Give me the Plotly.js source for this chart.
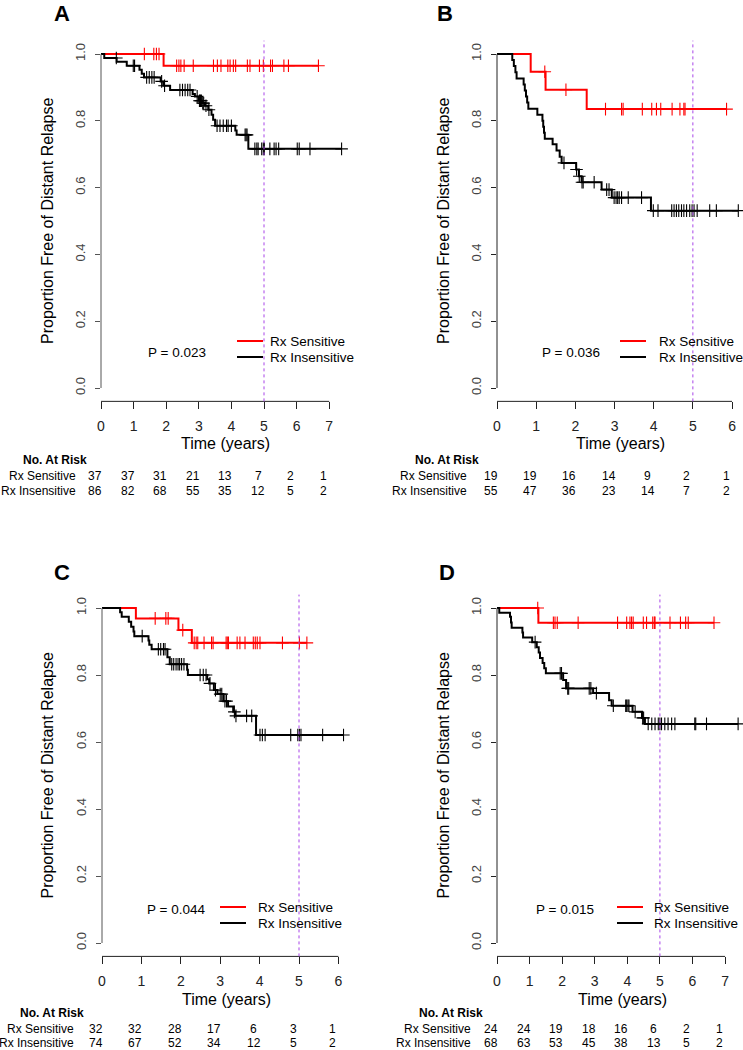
<!DOCTYPE html>
<html><head><meta charset="utf-8">
<script src="https://cdn.plot.ly/plotly-3.0.1.min.js"></script>
<style>html,body{margin:0;padding:0;background:#fff}</style>
</head><body><div id="chart" style="width:743px;height:1050px"></div>
<script>
// ---------------- DATA ----------------
const seriesNames = ['Rx Sensitive', 'Rx Insensitive'];
const landmarkYear = 5;
const yTicks = [0, 0.2, 0.4, 0.6, 0.8, 1.0];
const yTickText = ['0.0', '0.2', '0.4', '0.6', '0.8', '1.0'];
const xTicksA = [0, 1, 2, 3, 4, 5, 6, 7];
const xTicksB = [0, 1, 2, 3, 4, 5, 6];
const xTicksC = [0, 1, 2, 3, 4, 5, 6];
const xTicksD = [0, 1, 2, 3, 4, 5, 6, 7];
const pValues = ['P = 0.023', 'P = 0.036', 'P = 0.044', 'P = 0.015'];

// Panel A
const aSensEventT = [1.92];
const aSensEventS = [0.965];
const aSensCensor = [1.33, 1.62, 1.70, 1.78, 2.32, 2.39, 2.45, 2.55, 2.83, 3.45, 3.57, 3.68, 3.89, 3.96, 4.06, 4.13, 4.49, 4.57, 4.86, 4.98, 5.20, 5.26, 5.61, 5.75, 6.67];
const aInsEventT = [0.10, 0.48, 0.79, 1.18, 1.25, 1.32, 1.83, 1.91, 2.12, 2.81, 2.88, 3.00, 3.10, 3.19, 3.29, 3.39, 3.44, 3.50, 4.12, 4.16, 4.52];
const aInsEventS = [0.988, 0.977, 0.965, 0.953, 0.941, 0.930, 0.918, 0.905, 0.892, 0.880, 0.873, 0.860, 0.853, 0.845, 0.833, 0.818, 0.803, 0.785, 0.771, 0.758, 0.716];
const aInsCensor = [0.47, 0.99, 1.03, 1.40, 1.48, 1.56, 1.63, 1.86, 1.95, 2.42, 2.50, 2.58, 2.66, 2.73, 2.95, 3.02, 3.05, 3.08, 3.12, 3.15, 3.22, 3.31, 3.56, 3.65, 3.75, 3.85, 3.90, 4.00, 4.42, 4.45, 4.48, 4.72, 4.78, 4.82, 4.93, 4.98, 5.01, 5.18, 5.31, 5.37, 5.45, 6.02, 6.08, 6.41, 7.38];
const aRiskSens = [37, 37, 31, 21, 13, 7, 2, 1];
const aRiskIns = [86, 82, 68, 55, 35, 12, 5, 2];

// Panel B
const bSensEventT = [0.86, 1.24, 2.29];
const bSensEventS = [0.947, 0.893, 0.835];
const bSensCensor = [1.22, 1.76, 2.77, 3.18, 3.22, 3.71, 3.95, 4.07, 4.18, 4.47, 4.67, 4.77, 4.80, 5.86];
const bInsEventT = [0.39, 0.43, 0.47, 0.50, 0.68, 0.71, 0.74, 0.77, 0.80, 1.03, 1.16, 1.18, 1.20, 1.22, 1.42, 1.52, 1.60, 1.65, 2.02, 2.09, 2.16, 2.67, 2.93, 3.93];
const bInsEventS = [0.982, 0.964, 0.945, 0.927, 0.909, 0.891, 0.873, 0.855, 0.836, 0.818, 0.800, 0.782, 0.764, 0.746, 0.730, 0.711, 0.692, 0.674, 0.654, 0.634, 0.616, 0.594, 0.570, 0.531];
const bInsCensor = [1.71, 2.03, 2.10, 2.17, 2.20, 2.48, 2.80, 2.86, 2.99, 3.04, 3.08, 3.12, 3.18, 3.35, 3.69, 3.99, 4.11, 4.46, 4.52, 4.58, 4.64, 4.71, 4.77, 4.84, 4.92, 4.98, 5.03, 5.11, 5.43, 5.60, 6.16];
const bRiskSens = [19, 19, 16, 14, 9, 2, 1];
const bRiskIns = [55, 47, 36, 23, 14, 7, 2];

// Panel C
const cSensEventT = [0.86, 1.94, 2.28];
const cSensEventS = [0.969, 0.934, 0.896];
const cSensCensor = [1.35, 1.62, 1.68, 2.05, 2.34, 2.39, 2.43, 2.59, 2.78, 2.82, 3.15, 3.18, 3.21, 3.43, 3.50, 3.63, 3.84, 3.89, 3.94, 4.01, 4.58, 5.01, 5.20];
const cInsEventT = [0.46, 0.50, 0.68, 0.74, 0.80, 0.82, 1.18, 1.20, 1.26, 1.66, 1.72, 2.16, 2.18, 2.67, 2.72, 2.84, 2.93, 3.08, 3.20, 3.33, 3.38, 3.91];
const cInsEventS = [0.987, 0.974, 0.959, 0.944, 0.930, 0.916, 0.903, 0.890, 0.877, 0.853, 0.832, 0.816, 0.800, 0.787, 0.775, 0.755, 0.743, 0.722, 0.706, 0.690, 0.678, 0.621];
const cInsCensor = [1.02, 1.43, 1.49, 1.56, 1.60, 1.77, 1.82, 1.88, 1.93, 1.97, 2.02, 2.08, 2.49, 2.57, 2.64, 2.74, 2.88, 3.00, 3.04, 3.12, 3.16, 3.36, 3.40, 3.67, 3.80, 4.01, 4.07, 4.14, 4.79, 4.97, 5.01, 5.05, 5.60, 6.13];
const cRiskSens = [32, 32, 28, 17, 6, 3, 1];
const cRiskIns = [74, 67, 52, 34, 12, 5, 2];

// Panel D
const dSensEventT = [1.27];
const dSensEventS = [0.956];
const dSensCensor = [1.25, 1.73, 1.78, 1.85, 2.49, 3.70, 3.98, 4.08, 4.13, 4.18, 4.49, 4.59, 4.78, 4.83, 4.85, 5.31, 5.63, 5.79, 5.87, 6.66];
const dInsEventT = [0.07, 0.40, 0.43, 0.45, 0.78, 0.80, 1.08, 1.22, 1.28, 1.32, 1.40, 1.45, 1.50, 2.03, 2.12, 2.95, 3.44, 3.52, 4.16, 4.45, 4.54];
const dInsEventS = [0.986, 0.974, 0.957, 0.941, 0.927, 0.912, 0.898, 0.883, 0.867, 0.851, 0.836, 0.820, 0.805, 0.785, 0.760, 0.746, 0.725, 0.708, 0.690, 0.672, 0.654];
const dInsCensor = [1.17, 1.94, 1.98, 2.17, 2.20, 2.83, 2.88, 3.05, 3.57, 3.95, 3.98, 4.02, 4.05, 4.24, 4.47, 4.50, 4.64, 4.75, 4.85, 4.95, 5.00, 5.05, 5.15, 5.25, 5.36, 5.46, 6.07, 6.10, 6.43, 7.40];
const dRiskSens = [24, 24, 19, 18, 16, 6, 2, 1];
const dRiskIns = [68, 63, 53, 45, 38, 13, 5, 2];

// ---------------- LAYOUT GEOMETRY (pixels) ----------------
const W = 743, H = 1050;
const FONT = 'Liberation Sans, Arial, Helvetica, sans-serif';
const RED = '#ff0000', BLACK = '#000000', PURPLE = '#a845e8';
const panels = [
  {letter:'A', xa:'x', ya:'y', x0:101, pxYr:32.6, yTop:54, yBot:388, xmax:7.6, xTicks:xTicksA, yAxisColor:'#555',
   sens:[aSensEventT, aSensEventS, aSensCensor], ins:[aInsEventT, aInsEventS, aInsCensor], risk:[aRiskSens, aRiskIns],
   letterPos:[62,14], ytitleX:47, xtitle:[225,444], pPos:[177,352], legLine:237, legText:268, legRows:[341,357],
   riskRows:[460,476,491], noAtLeft:21, rowRight:78},
  {letter:'B', xa:'x2', ya:'y2', x0:497, pxYr:39.2, yTop:54, yBot:388, xmax:6.28, xTicks:xTicksB, yAxisColor:'#222',
   sens:[bSensEventT, bSensEventS, bSensCensor], ins:[bInsEventT, bInsEventS, bInsCensor], risk:[bRiskSens, bRiskIns],
   letterPos:[445,14], ytitleX:443, xtitle:[620,444], pPos:[571,353], legLine:620, legText:657, legRows:[341,357],
   riskRows:[460,476,491], noAtLeft:413, rowRight:469},
  {letter:'C', xa:'x3', ya:'y3', x0:102, pxYr:39.4, yTop:608, yBot:943, xmax:6.29, xTicks:xTicksC, yAxisColor:'#555',
   sens:[cSensEventT, cSensEventS, cSensCensor], ins:[cInsEventT, cInsEventS, cInsCensor], risk:[cRiskSens, cRiskIns],
   letterPos:[62,572], ytitleX:47, xtitle:[226,999], pPos:[176,909], legLine:220, legText:256, legRows:[907,923],
   riskRows:[1013,1029,1043], noAtLeft:18, rowRight:76},
  {letter:'D', xa:'x4', ya:'y4', x0:497, pxYr:32.6, yTop:608, yBot:943, xmax:7.55, xTicks:xTicksD, yAxisColor:'#222',
   sens:[dSensEventT, dSensEventS, dSensCensor], ins:[dInsEventT, dInsEventS, dInsCensor], risk:[dRiskSens, dRiskIns],
   letterPos:[447,572], ytitleX:443, xtitle:[622,999], pPos:[565,909], legLine:617, legText:652, legRows:[907,923],
   riskRows:[1013,1029,1043], noAtLeft:417, rowRight:473}
];

const px = v => v / W;
const py = v => 1 - v / H;

function survAt(t, evT, evS) {
  let s = 1;
  for (let i = 0; i < evT.length; i++) if (evT[i] <= t) s = evS[i];
  return s;
}

const traces = [];
const shapes = [];
const annotations = [];
const layout = {
  width: W, height: H, autosize: false,
  margin: {l:0, r:0, t:0, b:0},
  paper_bgcolor: '#fff', plot_bgcolor: 'rgba(0,0,0,0)',
  showlegend: false,
  font: {family: FONT, color: '#000'}
};

panels.forEach((p, idx) => {
  // curves
  [[p.sens, RED], [p.ins, BLACK]].forEach(([s, col]) => {
    const [evT, evS, cen] = s;
    const end = Math.max(...cen);
    traces.push({
      type:'scatter', mode:'lines', xaxis:p.xa, yaxis:p.ya,
      x:[0, ...evT, end], y:[1, ...evS, evS[evS.length-1]],
      line:{shape:'hv', color:col, width:2}, hoverinfo:'skip'
    });
    traces.push({
      type:'scatter', mode:'markers', xaxis:p.xa, yaxis:p.ya,
      x:cen, y:cen.map(t => survAt(t, evT, evS)),
      marker:{symbol:'cross-thin', size:9, color:col, line:{color:col, width:1.1}},
      hoverinfo:'skip'
    });
  });

  // axes
  const unit = p.yBot - p.yTop;
  const top = p.yTop - 0.04 * unit, bot = p.yBot + 0.04 * unit;
  const right = Math.min(W, p.x0 + p.xmax * p.pxYr);
  const xk = p.xa === 'x' ? 'xaxis' : 'xaxis' + p.xa.slice(1);
  const yk = p.ya === 'y' ? 'yaxis' : 'yaxis' + p.ya.slice(1);
  layout[xk] = {
    domain:[px(p.x0), px(right)], range:[0, p.xmax], anchor:p.ya,
    showgrid:false, zeroline:false, showline:false,
    tickmode:'array', tickvals:p.xTicks, ticktext:p.xTicks.map(String),
    ticks:'outside', ticklen:7, tickwidth:1, tickcolor:'#222',
    tickfont:{size:14, color:'#222', family:FONT}, ticklabelstandoff:5
  };
  layout[yk] = {
    domain:[py(bot), py(top)], range:[-0.04, 1.04], anchor:p.xa,
    showgrid:false, zeroline:false, showline:false,
    tickmode:'array', tickvals:yTicks, ticktext:yTickText, tickangle:-90,
    ticks:'outside', ticklen:5, tickwidth:1, tickcolor:p.yAxisColor,
    tickfont:{size:13, color:'#444', family:FONT}, ticklabelstandoff:5
  };
  // axis lines (R style: between first and last tick)
  shapes.push({type:'line', xref:p.xa, yref:p.ya + ' domain', x0:p.xTicks[0], x1:p.xTicks[p.xTicks.length-1], y0:0, y1:0, line:{color:'#222', width:1}});
  shapes.push({type:'line', xref:p.xa + ' domain', yref:p.ya, x0:0, x1:0, y0:yTicks[0], y1:yTicks[yTicks.length-1], line:{color:p.yAxisColor, width:1}});
  // landmark
  shapes.push({type:'line', xref:p.xa, yref:p.ya + ' domain', x0:landmarkYear, x1:landmarkYear, y0:0, y1:1, line:{color:PURPLE, width:1, dash:'dot'}});

  // panel letter
  annotations.push({text:'<b>' + p.letter + '</b>', xref:'paper', yref:'paper', x:px(p.letterPos[0]), y:py(p.letterPos[1]),
    xanchor:'center', yanchor:'middle', showarrow:false, font:{size:22, family:FONT, color:'#000'}});
  // y title
  annotations.push({text:'Proportion Free of Distant Relapse', xref:'paper', yref:'paper', x:px(p.ytitleX), y:py((p.yTop + p.yBot)/2),
    xanchor:'center', yanchor:'middle', textangle:-90, showarrow:false, font:{size:16, family:FONT, color:'#000'}});
  // x title
  annotations.push({text:'Time (years)', xref:'paper', yref:'paper', x:px(p.xtitle[0]), y:py(p.xtitle[1]),
    xanchor:'center', yanchor:'middle', showarrow:false, font:{size:16, family:FONT, color:'#000'}});
  // p-value
  annotations.push({text:pValues[idx], xref:'paper', yref:'paper', x:px(p.pPos[0]), y:py(p.pPos[1]),
    xanchor:'center', yanchor:'middle', showarrow:false, font:{size:13.5, family:FONT, color:'#000'}});
  // legend
  [RED, BLACK].forEach((col, k) => {
    shapes.push({type:'line', xref:'paper', yref:'paper', x0:px(p.legLine), x1:px(p.legLine + 26), y0:py(p.legRows[k]), y1:py(p.legRows[k]), line:{color:col, width:2}});
    annotations.push({text:seriesNames[k], xref:'paper', yref:'paper', x:px(p.legText), y:py(p.legRows[k]),
      xanchor:'left', yanchor:'middle', showarrow:false, font:{size:13.5, family:FONT, color:'#000'}});
  });
  // at-risk table
  annotations.push({text:'<b>No. At Risk</b>', xref:'paper', yref:'paper', x:px(p.noAtLeft), y:py(p.riskRows[0]),
    xanchor:'left', yanchor:'middle', showarrow:false, font:{size:12, family:FONT, color:'#000'}});
  [0, 1].forEach(k => {
    annotations.push({text:seriesNames[k], xref:'paper', yref:'paper', x:px(p.rowRight), y:py(p.riskRows[k+1]),
      xanchor:'right', yanchor:'middle', showarrow:false, font:{size:12, family:FONT, color:'#000'}});
    p.risk[k].forEach((n, j) => {
      annotations.push({text:String(n), xref:p.xa, yref:'paper', x:p.xTicks[j], xshift:-6, y:py(p.riskRows[k+1]),
        xanchor:'center', yanchor:'middle', showarrow:false, font:{size:12, family:FONT, color:'#000'}});
    });
  });
});

layout.shapes = shapes;
layout.annotations = annotations;
Plotly.newPlot('chart', traces, layout, {staticPlot:true, displayModeBar:false});
</script>
</body></html>
